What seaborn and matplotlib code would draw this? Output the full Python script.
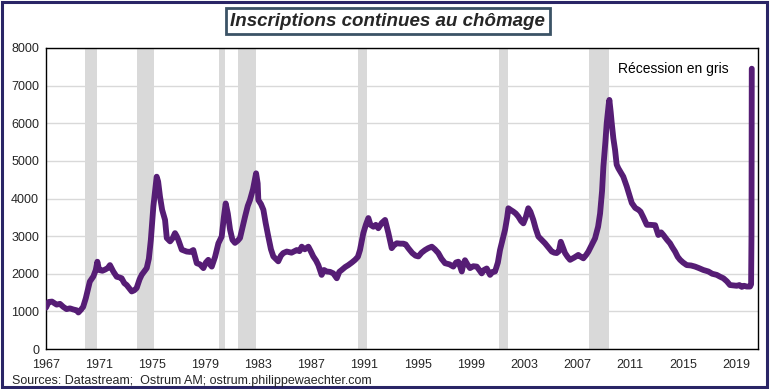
import matplotlib
matplotlib.use("Agg")
import matplotlib.pyplot as plt
import seaborn as sns
import pandas as pd
from matplotlib.patches import Rectangle

# Inscriptions continues au chômage (milliers), lecture du graphique
years = [
    1967.0, 1967.2, 1967.45, 1967.8, 1968.05, 1968.3, 1968.55, 1968.8, 1969.06, 1969.3,
    1969.44, 1969.65, 1969.8, 1970.0, 1970.3, 1970.57, 1970.75, 1970.87, 1971.0, 1971.25,
    1971.45, 1971.65, 1971.82, 1972.07, 1972.33, 1972.55, 1972.7, 1972.9, 1973.08, 1973.3,
    1973.46, 1973.65, 1973.83, 1974.05, 1974.21, 1974.4, 1974.59, 1974.75, 1974.9, 1975.09,
    1975.25, 1975.34, 1975.45, 1975.59, 1975.75, 1975.97, 1976.1, 1976.35, 1976.55, 1976.72,
    1976.85, 1976.97, 1977.23, 1977.6, 1977.85, 1978.1, 1978.36, 1978.6, 1978.86, 1979.05,
    1979.23, 1979.35, 1979.49, 1979.74, 1979.99, 1980.24, 1980.4, 1980.54, 1980.7, 1980.87,
    1981.05, 1981.24, 1981.45, 1981.62, 1981.85, 1982.0, 1982.2, 1982.37, 1982.6, 1982.83,
    1982.95, 1983.0, 1983.2, 1983.38, 1983.55, 1983.75, 1983.95, 1984.13, 1984.3, 1984.5,
    1984.7, 1984.88, 1985.14, 1985.5, 1985.89, 1986.1, 1986.27, 1986.5, 1986.77, 1986.95,
    1987.14, 1987.35, 1987.52, 1987.77, 1987.95, 1988.15, 1988.4, 1988.65, 1988.91, 1989.1,
    1989.28, 1989.55, 1989.78, 1990.05, 1990.29, 1990.5, 1990.66, 1990.91, 1991.1, 1991.29,
    1991.45, 1991.67, 1991.85, 1992.04, 1992.3, 1992.55, 1992.8, 1993.05, 1993.2, 1993.43,
    1993.7, 1993.93, 1994.1, 1994.3, 1994.6, 1994.85, 1995.06, 1995.3, 1995.56, 1995.8,
    1996.07, 1996.3, 1996.56, 1996.8, 1997.07, 1997.4, 1997.69, 1997.9, 1998.07, 1998.2,
    1998.33, 1998.45, 1998.57, 1998.75, 1998.95, 1999.2, 1999.46, 1999.65, 1999.83, 2000.0,
    2000.21, 2000.46, 2000.65, 2000.84, 2001.05, 2001.21, 2001.4, 2001.59, 2001.75, 2001.84,
    2002.0, 2002.22, 2002.4, 2002.59, 2002.8, 2002.97, 2003.15, 2003.34, 2003.5, 2003.72,
    2003.9, 2004.1, 2004.35, 2004.6, 2004.85, 2005.11, 2005.3, 2005.48, 2005.65, 2005.79,
    2005.95, 2006.11, 2006.3, 2006.49, 2006.8, 2007.11, 2007.3, 2007.49, 2007.7, 2007.87,
    2008.1, 2008.37, 2008.6, 2008.75, 2008.9, 2009.0, 2009.15, 2009.25, 2009.4, 2009.45,
    2009.55, 2009.63, 2009.75, 2009.88, 2010.0, 2010.13, 2010.3, 2010.5, 2010.76, 2010.95,
    2011.14, 2011.4, 2011.64, 2011.8, 2012.01, 2012.27, 2012.52, 2012.9, 2013.14, 2013.35,
    2013.52, 2013.8, 2014.02, 2014.2, 2014.4, 2014.6, 2014.78, 2015.0, 2015.28, 2015.6,
    2015.91, 2016.2, 2016.53, 2016.91, 2017.2, 2017.54, 2017.8, 2018.04, 2018.3, 2018.54,
    2018.8, 2019.05, 2019.25, 2019.43, 2019.6, 2019.8, 2020.05, 2020.13, 2020.16, 2020.18,
]
claims = [
    1100, 1250, 1260, 1180, 1200, 1120, 1060, 1080, 1050, 1030,
    970, 1050, 1120, 1350, 1790, 1930, 2100, 2320, 2100, 2080,
    2110, 2150, 2230, 2060, 1920, 1900, 1880, 1750, 1700, 1600,
    1530, 1560, 1620, 1850, 1970, 2060, 2150, 2400, 2900, 3790,
    4300, 4580, 4450, 4050, 3700, 3430, 2950, 2860, 2950, 3080,
    3000, 2900, 2640, 2590, 2580, 2630, 2280, 2250, 2150, 2300,
    2370, 2250, 2190, 2450, 2810, 2990, 3500, 3870, 3600, 3170,
    2900, 2820, 2880, 2950, 3300, 3520, 3800, 3960, 4250, 4670,
    4400, 3960, 3850, 3700, 3350, 2990, 2650, 2460, 2400, 2330,
    2480, 2550, 2590, 2560, 2630, 2600, 2720, 2650, 2720, 2600,
    2460, 2350, 2230, 1970, 2100, 2060, 2050, 2010, 1880, 2050,
    2100, 2180, 2230, 2300, 2370, 2450, 2630, 3080, 3300, 3480,
    3300, 3250, 3300, 3210, 3350, 3430, 3080, 2680, 2750, 2810,
    2800, 2800, 2780, 2680, 2550, 2480, 2460, 2560, 2630, 2680,
    2720, 2650, 2550, 2400, 2280, 2250, 2190, 2300, 2320, 2200,
    2060, 2250, 2360, 2250, 2150, 2200, 2190, 2100, 2010, 2100,
    2140, 1970, 2050, 2060, 2300, 2630, 2900, 3170, 3500, 3740,
    3700, 3650, 3600, 3520, 3400, 3340, 3500, 3740, 3650, 3430,
    3200, 2990, 2900, 2810, 2700, 2590, 2560, 2550, 2600, 2850,
    2700, 2550, 2450, 2370, 2430, 2500, 2450, 2410, 2500, 2590,
    2750, 2940, 3250, 3600, 4200, 4850, 5500, 6000, 6500, 6620,
    6300, 6000, 5600, 5290, 4900, 4800, 4700, 4580, 4320, 4100,
    3880, 3750, 3700, 3650, 3500, 3300, 3300, 3290, 3030, 3100,
    3030, 2900, 2810, 2700, 2590, 2450, 2370, 2300, 2230, 2220,
    2190, 2150, 2100, 2060, 2000, 1970, 1920, 1880, 1800, 1700,
    1690, 1680, 1700, 1650, 1680, 1660, 1660, 1720, 3060, 7450,
]

# récessions NBER
rec_start = [1969.92, 1973.83, 1980.0, 1981.5, 1990.5, 2001.17, 2007.92]
rec_end = [1970.83, 1975.17, 1980.5, 1982.83, 1991.17, 2001.83, 2009.42]

xticks = list(range(1967, 2020, 4))
yticks = list(range(0, 8001, 1000))

df = pd.DataFrame({"annee": years, "inscriptions": claims})

sns.set_style("white")
plt.rcParams["font.family"] = ["Liberation Sans", "DejaVu Sans"]

fig = plt.figure(figsize=(7.74, 3.89), dpi=100)
ax = fig.add_axes([46 / 774, 40 / 389, 712 / 774, 301 / 389])

for s, e in zip(rec_start, rec_end):
    ax.axvspan(s, e, color="#d9d9d9", lw=0, zorder=1)

sns.lineplot(data=df, x="annee", y="inscriptions", ax=ax, color="#561d75",
             linewidth=4.2, zorder=3)

ax.set_xlim(1967, 2020.65)
ax.set_ylim(0, 8000)
ax.set_xticks(xticks)
ax.set_xticklabels([str(t) for t in xticks], fontsize=9)
ax.set_yticks(yticks)
ax.set_yticklabels([str(t) for t in yticks], fontsize=9)
ax.tick_params(axis="x", length=0, pad=7)
ax.tick_params(axis="y", length=0, pad=5)
ax.set_xlabel("")
ax.set_ylabel("")
ax.yaxis.grid(True, color="#d9d9d9", linewidth=1, zorder=0)
ax.set_axisbelow(True)
for sp in ax.spines.values():
    sp.set_color("black")
    sp.set_linewidth(1)

ax.text(0.803, 0.93, "Récession en gris", transform=ax.transAxes,
        fontsize=10, ha="left", va="center", color="black")

fig.text(0.501, 0.946, "Inscriptions continues au chômage", fontsize=13.5,
         fontweight="bold", fontstyle="italic", ha="center", va="center",
         bbox=dict(boxstyle="square,pad=0.25", fc="white", ec="#3b5366", lw=2))

fig.text(12 / 774, 1 - 381 / 389, "Sources: Datastream;  Ostrum AM; ostrum.philippewaechter.com",
         fontsize=9, ha="left", va="center")

# cadre extérieur
fig.patches.append(Rectangle((1.5 / 774, 2.5 / 389), 765 / 774, 385 / 389,
                             transform=fig.transFigure, fill=False,
                             ec="#2a2566", lw=2.2))

fig.savefig("out.png", dpi=100)
